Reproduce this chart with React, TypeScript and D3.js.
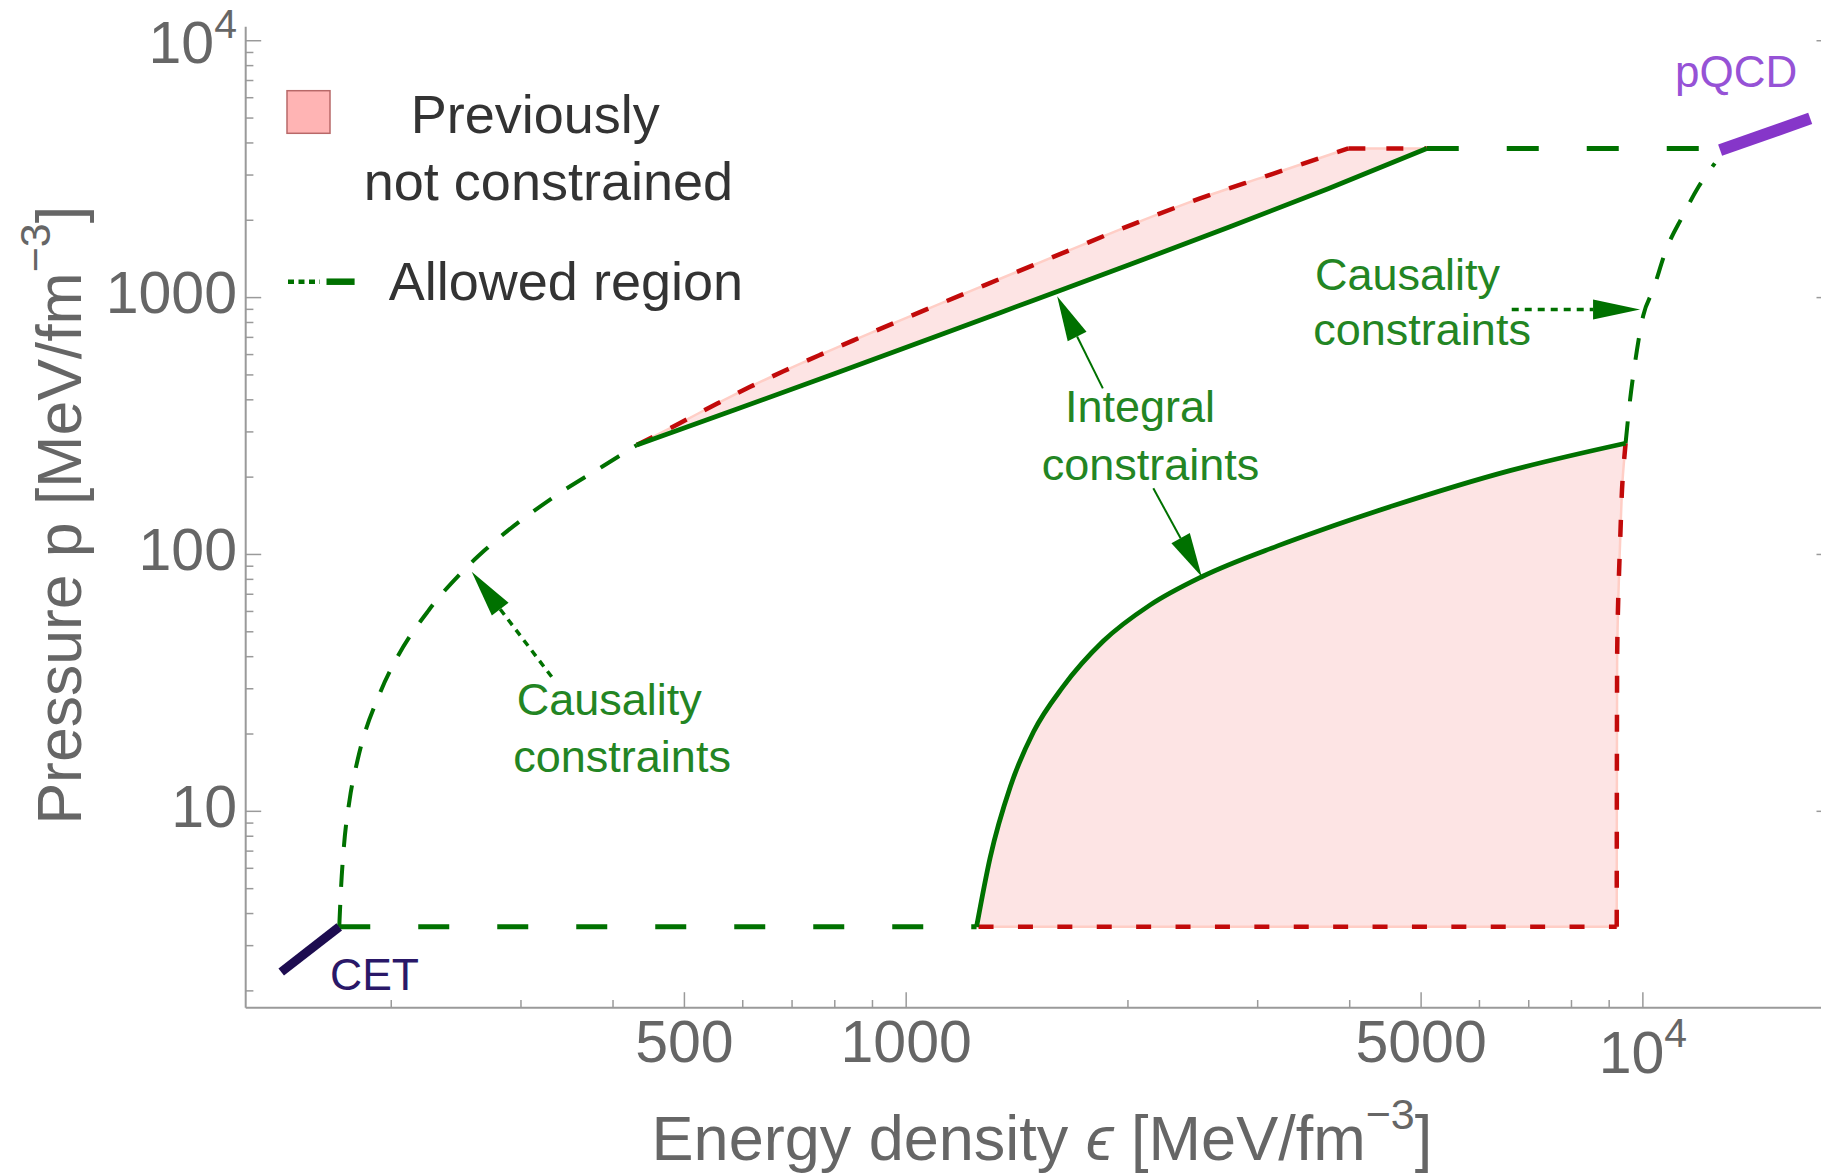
import React from "react";
import * as d3 from "d3";

// ---- data (energy density ε [MeV/fm^3], pressure p [MeV/fm^3]) ----
const xMajorTicks = [500, 1000, 5000, 10000];
const xMinorTicks = [200, 300, 400, 600, 700, 800, 900, 2000, 3000, 4000, 6000, 7000, 8000, 9000];
const yMajorTicks = [10, 100, 1000, 10000];
const yMinorTicks = [2, 3, 4, 5, 6, 7, 8, 9, 20, 30, 40, 50, 60, 70, 80, 90, 200, 300, 400, 500, 600, 700, 800, 900, 2000, 3000, 4000, 5000, 6000, 7000, 8000, 9000];

const cetBand: [number, number][] = [[141.8, 2.37], [170, 3.55]];
const pqcdBand: [number, number][] = [[12730, 3749], [16870, 4983]];

const lowerGreenDashed: [number, number][] = [[170, 3.55], [1246, 3.55]];
const lowerRedDashed: [number, number][] = [[1246, 3.55], [9215, 3.55]];
const upperRedFlat: [number, number][] = [[3983, 3809], [5089, 3809]];
const upperGreenDashed: [number, number][] = [[5089, 3809], [12700, 3809]];

const causalityLeft: [number, number][] = [
  [170, 3.55], [171, 5.1], [172.5, 7.3], [175.6, 11.1], [180, 15.8], [193, 28.8],
  [204, 40], [225, 60.8], [251, 87], [268, 104], [330, 165], [387, 220], [430.8, 266.6],
];
const causalityRight: [number, number][] = [
  [9474, 271], [9607, 399], [9760, 560], [10010, 850], [10320, 1069], [10770, 1550],
  [11310, 2063], [11900, 2700], [12520, 3331],
];
const integralUpper: [number, number][] = [
  [430.8, 266.6], [586.8, 366.7], [798.9, 505.7], [1087.5, 698.9], [1480.6, 970.3],
  [2016.2, 1347.7], [2745.6, 1881.6], [3738.6, 2654.5], [5089, 3809],
];
const previousUpper: [number, number][] = [
  [430.8, 266.6], [493.3, 324.9], [553.3, 386.2], [614, 449.3], [681.3, 516.7],
  [764.1, 598.4], [848, 681.5], [971, 804.5], [1100.4, 934.8], [1286.4, 1125.9],
  [1488.1, 1338.8], [1652, 1514], [2034.3, 1933.4], [2506, 2432.2], [3087, 2976.7], [3983, 3809],
];
const integralLower: [number, number][] = [
  [1246, 3.55], [1300, 6.6], [1385, 12.5], [1489, 20.4], [1632, 30.5], [1852, 46],
  [2142, 63.5], [2519, 81.9], [3193, 108], [3645, 124], [4591, 155], [6600, 212], [9474, 271],
];
const previousRight: [number, number][] = [
  [9215, 3.55], [9226, 36.5], [9322, 120.8], [9385, 194.8], [9474, 271],
];

// annotation arrows: [from, tip]
const arrowCausalityLeft: [number, number][] = [[330.2, 33.4], [257.2, 85.6]];
const arrowIntegralUp: [number, number][] = [[1849, 443], [1603, 1013]];
const arrowIntegralDown: [number, number][] = [[2165, 180.9], [2519, 81.9]];
const arrowCausalityRight: [number, number][] = [[6637, 899.5], [9913, 899.5]];

// ---- layout ----
const W = 1821;
const H = 1173;
const X0 = 245.7;
const X1 = 1832;
const Y0 = 1007.7;
const Y1 = 26.7;

const x = d3.scaleLog().domain([126.9, 18060]).range([X0, X1]);
const y = d3.scaleLog().domain([1.72, 11340]).range([Y0, Y1]);

const FONT = "'Liberation Sans', Arial, Helvetica, sans-serif";
const GREEN = "#007100";
const GREEN_TEXT = "#238523";
const RED = "#c20a0a";
const FILL = "#fde4e4";
const FILL_EDGE = "#ffcec6";
const AXIS = "#9a9a9a";
const TICK_TEXT = "#666666";

const lineX = d3.line<[number, number]>().x((d) => x(d[0])).y((d) => y(d[1])).curve(d3.curveMonotoneX);
const lineY = d3.line<[number, number]>().x((d) => x(d[0])).y((d) => y(d[1])).curve(d3.curveMonotoneY);
const straight = d3.line<[number, number]>().x((d) => x(d[0])).y((d) => y(d[1]));

function joinPaths(parts: string[]): string {
  return parts.map((p, i) => (i === 0 ? p : "L" + p.slice(1))).join("") + "Z";
}

const lowerFill = joinPaths([
  lineX(integralLower) as string,
  lineY([...previousRight].reverse()) as string,
  straight([[9215, 3.55], [1246, 3.55]]) as string,
]);
const upperFill = joinPaths([
  lineX(previousUpper) as string,
  straight(upperRedFlat) as string,
  lineX([...integralUpper].reverse()) as string,
]);

function Arrow({ pts, dashed, width, headLen, headHalf }: { pts: [number, number][]; dashed?: boolean; width: number; headLen: number; headHalf: number }) {
  const [fx, fy] = [x(pts[0][0]), y(pts[0][1])];
  const [tx, ty] = [x(pts[1][0]), y(pts[1][1])];
  const dx = tx - fx;
  const dy = ty - fy;
  const len = Math.hypot(dx, dy);
  const ux = dx / len;
  const uy = dy / len;
  const bx = tx - ux * headLen;
  const by = ty - uy * headLen;
  const head = `M${tx},${ty}L${bx - uy * headHalf},${by + ux * headHalf}L${bx + uy * headHalf},${by - ux * headHalf}Z`;
  return (
    <g>
      <line x1={fx} y1={fy} x2={bx} y2={by} stroke={GREEN} strokeWidth={width} strokeDasharray={dashed ? "7,6" : undefined} />
      <path d={head} fill={GREEN} />
    </g>
  );
}

export default function App() {
  return (
    <div>
      <style>{"body{margin:0}"}</style>
      <svg width={W} height={H} viewBox={`0 0 ${W} ${H}`} style={{ display: "block", background: "#fff" }} fontFamily={FONT}>
        {/* shaded regions */}
        <path d={lowerFill} fill={FILL} stroke={FILL_EDGE} strokeWidth={2.5} />
        <path d={upperFill} fill={FILL} stroke={FILL_EDGE} strokeWidth={2.5} />

        {/* previous bounds */}
        <path d={lineX(previousUpper) as string} fill="none" stroke={RED} strokeWidth={4.5} strokeDasharray="18,20" />
        <path d={straight(upperRedFlat) as string} fill="none" stroke={RED} strokeWidth={4.5} strokeDasharray="17,21" />
        <path d={straight(lowerRedDashed) as string} fill="none" stroke={RED} strokeWidth={4.5} strokeDasharray="15,24.4" strokeDashoffset={-2} />
        <path d={lineY(previousRight) as string} fill="none" stroke={RED} strokeWidth={4.5} strokeDasharray="17,22" />

        {/* allowed region */}
        <path d={straight(lowerGreenDashed) as string} fill="none" stroke={GREEN} strokeWidth={5} strokeDasharray="31,48" />
        <path d={straight(upperGreenDashed) as string} fill="none" stroke={GREEN} strokeWidth={5} strokeDasharray="32,48" />
        <path d={lineX(causalityLeft) as string} fill="none" stroke={GREEN} strokeWidth={4} strokeDasharray="22,18" />
        <path d={lineX(causalityRight) as string} fill="none" stroke={GREEN} strokeWidth={4} strokeDasharray="22,20" />
        <path d={lineX(integralUpper) as string} fill="none" stroke={GREEN} strokeWidth={4.8} />
        <path d={lineX(integralLower) as string} fill="none" stroke={GREEN} strokeWidth={4.8} />

        {/* CET and pQCD limits */}
        <path d={straight(cetBand) as string} fill="none" stroke="#1d0c50" strokeWidth={9} />
        <path d={straight(pqcdBand) as string} fill="none" stroke="#8636c9" strokeWidth={12} />
        <text x={330} y={990} fontSize={44.5} fill="#2a1868">CET</text>
        <text x={1675} y={86.7} fontSize={44} fill="#9652d6">pQCD</text>

        {/* annotations */}
        <Arrow pts={arrowCausalityLeft} dashed width={3.5} headLen={47} headHalf={10.5} />
        <Arrow pts={arrowIntegralUp} width={2} headLen={45} headHalf={10.5} />
        <Arrow pts={arrowIntegralDown} width={2} headLen={44} headHalf={10.5} />
        <Arrow pts={arrowCausalityRight} dashed width={3.5} headLen={47} headHalf={10} />
        <g fontSize={45} fill={GREEN_TEXT}>
          <text x={516.7} y={715}>Causality</text>
          <text x={513.3} y={771.7}>constraints</text>
          <text x={1065} y={421.7}>Integral</text>
          <text x={1041.7} y={480}>constraints</text>
          <text x={1315} y={290}>Causality</text>
          <text x={1313.3} y={345}>constraints</text>
        </g>

        {/* legend */}
        <rect x={287} y={90.7} width={43} height={42.6} fill="#ffb4b4" stroke="#b86868" strokeWidth={1.5} />
        <g fontSize={54} fill="#333333">
          <text x={410.7} y={133.3}>Previously</text>
          <text x={363.8} y={200}>not constrained</text>
          <text x={388.8} y={300}>Allowed region</text>
        </g>
        <line x1={288} x2={320} y1={281.7} y2={281.7} stroke={GREEN} strokeWidth={4.5} strokeDasharray="6,4.5" />
        <line x1={326.5} x2={354.6} y1={281.7} y2={281.7} stroke={GREEN} strokeWidth={6.5} />

        {/* axes */}
        <line x1={X0} x2={X0} y1={Y1} y2={Y0} stroke={AXIS} strokeWidth={2} />
        <line x1={X0} x2={W} y1={Y0} y2={Y0} stroke={AXIS} strokeWidth={2} />
        {yMajorTicks.map((t) => (
          <g key={"ym" + t}>
            <line x1={X0} x2={X0 + 15.5} y1={y(t)} y2={y(t)} stroke={AXIS} strokeWidth={1.5} />
            <line x1={X1 - 15.5} x2={X1} y1={y(t)} y2={y(t)} stroke={AXIS} strokeWidth={1.5} />
          </g>
        ))}
        {yMinorTicks.map((t) => (
          <line key={"yn" + t} x1={X0} x2={X0 + 7.7} y1={y(t)} y2={y(t)} stroke={AXIS} strokeWidth={1.5} />
        ))}
        {xMajorTicks.map((t) => (
          <line key={"xm" + t} x1={x(t)} x2={x(t)} y1={Y0} y2={Y0 - 15.5} stroke={AXIS} strokeWidth={1.5} />
        ))}
        {xMinorTicks.map((t) => (
          <line key={"xn" + t} x1={x(t)} x2={x(t)} y1={Y0} y2={Y0 - 7.7} stroke={AXIS} strokeWidth={1.5} />
        ))}

        {/* tick labels */}
        <g fontSize={59} fill={TICK_TEXT}>
          {yMajorTicks.map((t) =>
            t === 10000 ? (
              <text key={"yl" + t} x={237} y={y(t) + 22.6} textAnchor="end">
                10<tspan fontSize={41} dy={-25}>4</tspan>
              </text>
            ) : (
              <text key={"yl" + t} x={237} y={y(t) + 15.5} textAnchor="end">{String(t)}</text>
            )
          )}
          {xMajorTicks.map((t) =>
            t === 10000 ? (
              <text key={"xl" + t} x={x(t)} y={1073.3} textAnchor="middle">
                10<tspan fontSize={41} dy={-26.6}>4</tspan>
              </text>
            ) : (
              <text key={"xl" + t} x={x(t)} y={1061.7} textAnchor="middle">{String(t)}</text>
            )
          )}
        </g>

        {/* axis titles */}
        <text x={651.6} y={1160} fontSize={63} fill={TICK_TEXT}>
          Energy density <tspan fontStyle="italic">ϵ</tspan> [MeV/fm<tspan fontSize={43} dy={-31}>−3</tspan><tspan dy={31}>]</tspan>
        </text>
        <text transform="translate(81,824.6) rotate(-90)" fontSize={62.5} fill={TICK_TEXT}>
          Pressure p [MeV/fm<tspan fontSize={43} dy={-31}>−3</tspan><tspan dy={31}>]</tspan>
        </text>
      </svg>
    </div>
  );
}
